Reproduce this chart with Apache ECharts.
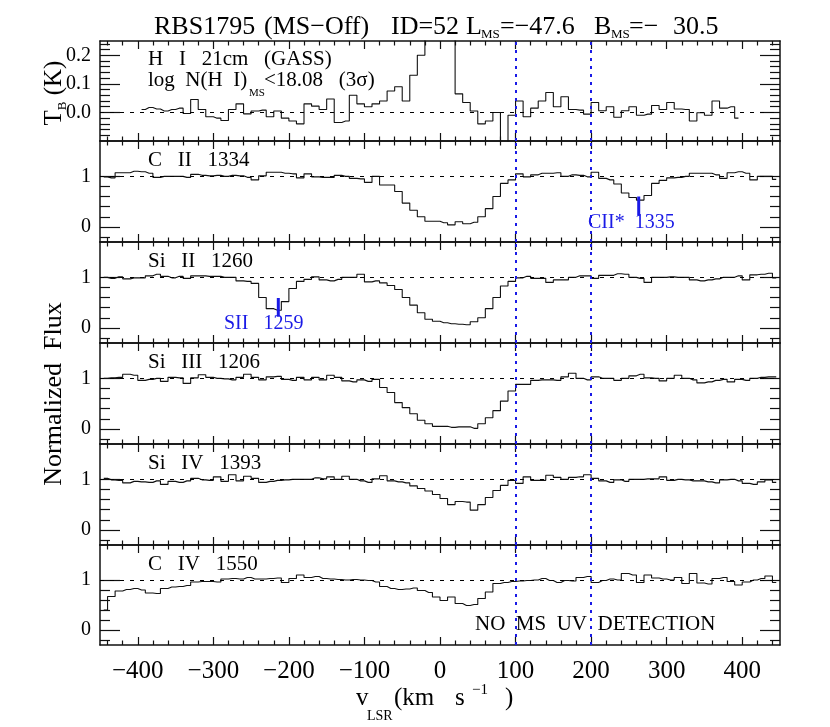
<!DOCTYPE html>
<html>
<head>
<meta charset="utf-8">
<title>RBS1795 (MS-Off)</title>
<script src="https://cdn.jsdelivr.net/npm/echarts@6.0.0/dist/echarts.min.js"></script>
<style>
  html, body { margin: 0; padding: 0; background: #fff; }
  #chart { width: 830px; height: 727px; }
</style>
</head>
<body>
<div id="chart"></div>
<script>
// ---- values ----
// bin centres: UV spectra from -445, HI from -395, 10 km/s per bin
var UV_START = -445, HI_START = -395, BIN = 10;

var hi21 = [
  0.010, 0.017, 0.012, 0.005, 0.010, 0.015, -0.004, 0.045, 0.010, -0.015,
  -0.020, -0.028, 0.010, 0.030, -0.005, 0.005, 0.008, -0.015, 0.005, -0.020,
  -0.030, -0.040, 0.030, 0.022, 0.010, 0.047, -0.035, -0.030, 0.060, 0.030,
  0.020, 0.030, 0.040, 0.075, 0.090, 0.040, 0.130, 0.200, 0.320, 0.420,
  0.400, 0.300, 0.065, 0.035, 0.005, -0.040, -0.030, 0.000, -0.130, -0.010,
  0.040, -0.015, 0.015, 0.040, 0.070, 0.020, 0.055, 0.010, 0.008, -0.006,
  0.035, 0.006, 0.020, -0.017, 0.006, 0.020, -0.010, -0.006, 0.024, 0.010,
  0.035, 0.012, 0.010, -0.030, -0.001, -0.010, 0.040, 0.015, 0.020, -0.020
];
var cii1334 = [
  0.99, 0.97, 1.07, 1.07, 1.10, 1.09, 1.06, 0.98, 1.00, 1.00,
  1.00, 0.98, 1.04, 1.02, 1.01, 1.02, 1.00, 1.02, 1.01, 0.98,
  0.93, 1.01, 1.08, 1.08, 1.06, 1.05, 0.97, 1.05, 0.99, 0.98,
  0.98, 1.02, 1.00, 0.96, 0.95, 0.88, 1.00, 0.83, 0.83, 0.70,
  0.47, 0.33, 0.20, 0.11, 0.11, 0.08, 0.04, 0.10, 0.06, 0.09,
  0.20, 0.36, 0.60, 0.86, 0.93, 1.05, 0.99, 1.03, 1.06, 1.06,
  1.07, 1.00, 1.03, 1.02, 0.99, 1.08, 0.96, 0.93, 0.85, 0.67,
  0.58, 0.53, 0.62, 0.86, 0.92, 0.97, 0.98, 1.00, 1.06, 1.06,
  1.06, 1.03, 0.96, 1.07, 1.09, 1.06, 0.93, 1.00, 1.00, 0.94
];
var siii1260 = [
  1.00, 0.98, 1.01, 0.97, 0.99, 0.99, 1.03, 1.06, 1.02, 0.99,
  1.02, 0.98, 1.03, 1.03, 1.02, 1.02, 1.00, 1.00, 0.93, 0.92,
  0.88, 0.60, 0.38, 0.35, 0.52, 0.78, 0.92, 0.96, 1.01, 0.95,
  0.93, 0.96, 1.00, 1.00, 1.06, 0.91, 0.93, 0.89, 0.84, 0.76,
  0.60, 0.45, 0.30, 0.17, 0.13, 0.10, 0.08, 0.07, 0.06, 0.12,
  0.20, 0.38, 0.60, 0.83, 0.92, 0.99, 1.02, 0.98, 0.98, 0.90,
  0.95, 0.95, 1.00, 1.03, 1.03, 0.98, 1.04, 1.04, 1.07, 1.06,
  1.00, 0.98, 0.90, 1.00, 1.00, 1.01, 1.00, 1.00, 0.95, 0.93,
  0.95, 0.97, 1.00, 1.00, 1.03, 0.95, 1.05, 1.06, 1.08, 0.99
];
var siiii1206 = [
  1.00, 1.01, 1.02, 1.08, 1.06, 0.96, 0.98, 1.00, 0.94, 1.02,
  1.01, 0.90, 1.01, 1.07, 1.02, 1.00, 0.99, 0.97, 1.02, 1.08,
  1.02, 0.97, 1.03, 1.04, 0.98, 0.96, 1.02, 0.97, 1.02, 0.97,
  1.06, 1.02, 0.95, 0.93, 0.97, 0.94, 0.98, 0.82, 0.72, 0.52,
  0.42, 0.30, 0.17, 0.10, 0.05, 0.05, 0.03, 0.04, 0.04, 0.01,
  0.10, 0.22, 0.36, 0.55, 0.75, 0.88, 0.88, 0.96, 0.97, 0.97,
  0.96, 1.03, 1.10, 1.00, 0.97, 1.03, 1.00, 1.00, 0.96, 1.00,
  1.05, 1.08, 1.01, 1.00, 0.95, 1.00, 1.06, 1.00, 0.97, 0.91,
  0.93, 0.96, 0.98, 0.93, 0.98, 0.96, 1.00, 1.02, 1.03, 1.03
];
var siiv1393 = [
  1.02, 0.99, 0.98, 0.93, 0.96, 0.95, 0.94, 0.97, 0.90, 0.96,
  0.94, 0.97, 1.02, 0.99, 0.98, 1.05, 0.96, 1.09, 0.97, 1.06,
  1.02, 0.94, 0.96, 0.98, 0.99, 1.00, 1.00, 1.00, 1.03, 1.01,
  1.05, 1.00, 1.06, 1.00, 0.97, 0.94, 1.01, 1.07, 0.97, 0.95,
  0.93, 0.87, 0.82, 0.77, 0.70, 0.62, 0.50, 0.56, 0.55, 0.39,
  0.50, 0.64, 0.78, 0.88, 0.98, 0.92, 1.05, 0.98, 0.98, 1.08,
  1.04, 1.00, 1.04, 1.05, 1.09, 1.02, 0.97, 0.94, 0.99, 0.96,
  1.00, 1.00, 1.01, 1.01, 1.05, 0.98, 1.00, 0.99, 0.97, 0.97,
  0.95, 0.93, 0.99, 1.00, 0.97, 0.92, 0.90, 0.95, 0.99, 0.94
];
var civ1550 = [
  0.40, 0.67, 0.78, 0.81, 0.83, 0.80, 0.74, 0.73, 0.83, 0.86,
  0.87, 0.89, 0.96, 0.97, 0.97, 0.96, 1.02, 1.03, 1.02, 1.05,
  1.02, 1.02, 1.03, 1.04, 0.95, 1.03, 1.10, 1.05, 1.07, 1.03,
  1.02, 1.01, 1.00, 1.01, 1.00, 0.99, 0.96, 0.87, 0.83, 0.81,
  0.82, 0.84, 0.79, 0.75, 0.66, 0.59, 0.66, 0.53, 0.49, 0.51,
  0.63, 0.76, 0.93, 0.95, 0.97, 0.98, 0.99, 1.00, 1.03, 0.99,
  0.95, 0.99, 0.98, 1.05, 1.07, 0.95, 0.99, 1.02, 1.00, 1.13,
  1.10, 0.95, 1.10, 1.04, 1.02, 1.00, 1.05, 0.93, 1.13, 0.94,
  0.92, 1.03, 1.05, 0.97, 0.90, 0.96, 1.00, 1.03, 1.08, 0.95
];

var panelNames = ['C   II   1334', 'Si   II   1260', 'Si   III   1206', 'Si   IV   1393', 'C   IV   1550'];

// blended-line markers: velocity, panel, flux top / bottom, label
var markVel = [263, -214];
var markPanel = [1, 2];
var markTop = [0.60, 0.59];
var markBot = [0.22, 0.22];
var markText = ['CII*  1335', 'SII   1259'];

// MS velocity window (dotted blue)
var msWindow = [100, 200];

// tick positions
var xMajor = [-400, -300, -200, -100, 0, 100, 200, 300, 400];
var xMinor = [-440, -420, -380, -360, -340, -320, -280, -260, -240, -220, -180, -160, -140, -120,
  -80, -60, -40, -20, 20, 40, 60, 80, 120, 140, 160, 180, 220, 240, 260, 280, 320, 340, 360, 380, 420, 440];
var fluxMajor = [0, 1];
var fluxMinor = [-0.2, 0.2, 0.4, 0.6, 0.8];
var tbMajor = [0, 0.1, 0.2];
var tbMinor = [-0.08, -0.06, -0.04, -0.02, 0.02, 0.04, 0.06, 0.08, 0.12, 0.14, 0.16, 0.18, 0.22, 0.24];

// ---- layout ----
var FONT = '"Liberation Serif", "Times New Roman", serif';
var INK = '#111';
var BLUE = '#1a1ae6';
var TOPS = [41, 141, 242, 343, 444, 545];
var HEIGHTS = [100, 101, 101, 101, 101, 100];
var X_MIN = -450, X_MAX = 450;

function velPairs(vals, start) {
  return vals.map(function (y, i) { return [start + i * BIN, y]; });
}
function fmtVel(v) { return v < 0 ? '\u2212' + Math.abs(v) : String(v); }

function mkX(gi, pos, vals, len, line, labels) {
  return {
    type: 'value', gridIndex: gi, position: pos, min: X_MIN, max: X_MAX,
    axisLine: { show: line, onZero: false, lineStyle: { color: INK, width: 1.5 } },
    axisTick: { show: true, inside: true, length: len, customValues: vals, lineStyle: { color: INK, width: 1.2 } },
    axisLabel: { show: !!labels, customValues: vals, margin: 14, formatter: fmtVel,
      color: '#000', fontFamily: FONT, fontSize: 25 },
    splitLine: { show: false }
  };
}
function mkY(gi, pos, min, max, vals, len, line, fmt) {
  return {
    type: 'value', gridIndex: gi, position: pos, min: min, max: max,
    axisLine: { show: line, onZero: false, lineStyle: { color: INK, width: 1.5 } },
    axisTick: { show: true, inside: true, length: len, customValues: vals, lineStyle: { color: INK, width: 1.2 } },
    axisLabel: { show: !!fmt, customValues: vals, margin: 9, formatter: fmt,
      color: '#000', fontFamily: FONT, fontSize: 20 },
    splitLine: { show: false }
  };
}

var panels = [
  { data: velPairs(hi21, HI_START), min: -0.10, max: 0.25, major: tbMajor, minor: tbMinor, ref: 0,
    fmt: function (v) { return v.toFixed(1); } },
  { data: velPairs(cii1334, UV_START) },
  { data: velPairs(siii1260, UV_START) },
  { data: velPairs(siiii1206, UV_START) },
  { data: velPairs(siiv1393, UV_START) },
  { data: velPairs(civ1550, UV_START) }
];

var grid = [], xAxis = [], yAxis = [], series = [];
panels.forEach(function (p, gi) {
  var min = p.min !== undefined ? p.min : -0.3;
  var max = p.max !== undefined ? p.max : 1.7;
  var major = p.major || fluxMajor, minor = p.minor || fluxMinor;
  var fmt = p.fmt || function (v) { return String(v); };
  var last = gi === panels.length - 1;
  grid.push({ left: 100, right: 50, top: TOPS[gi], height: HEIGHTS[gi], show: false });
  xAxis.push(mkX(gi, 'bottom', xMajor, 8, true, last));
  xAxis.push(mkX(gi, 'bottom', xMinor, 4.5, false, false));
  xAxis.push(mkX(gi, 'top', xMajor, 8, true, false));
  xAxis.push(mkX(gi, 'top', xMinor, 4.5, false, false));
  yAxis.push(mkY(gi, 'left', min, max, major, 20, true, fmt));
  yAxis.push(mkY(gi, 'left', min, max, minor, 10, false, null));
  yAxis.push(mkY(gi, 'right', min, max, major, 20, true, null));
  yAxis.push(mkY(gi, 'right', min, max, minor, 10, false, null));

  var ml = [{ yAxis: p.ref !== undefined ? p.ref : 1, lineStyle: { color: '#000', type: [4, 6], width: 1 } }];
  msWindow.forEach(function (v) {
    ml.push({ xAxis: v, lineStyle: { color: BLUE, type: [3, 5], width: 2 } });
  });
  series.push({
    type: 'line', xAxisIndex: 4 * gi, yAxisIndex: 4 * gi, data: p.data,
    step: 'middle', showSymbol: false, symbol: 'none', clip: true, silent: true,
    lineStyle: { color: INK, width: 1.1 },
    markLine: { silent: true, symbol: ['none', 'none'], label: { show: false }, data: ml }
  });
});

markVel.forEach(function (v, i) {
  var gi = markPanel[i];
  series.push({
    type: 'line', xAxisIndex: 4 * gi, yAxisIndex: 4 * gi, silent: true,
    data: [[v, markTop[i]], [v, markBot[i]]], showSymbol: false, symbol: 'none',
    lineStyle: { color: BLUE, width: 3 }, z: 5
  });
});

// ---- text ----
function txt(x, y, text, size, extra) {
  var g = { type: 'text', x: x, y: y, silent: true, z: 100,
    style: { text: text, fontFamily: FONT, fontSize: size, fill: '#000', align: 'left', verticalAlign: 'middle' } };
  if (extra) for (var k in extra) g.style[k] = extra[k];
  return g;
}

var graphic = [];
// title, piece by piece
graphic.push(txt(154, 27.5, 'RBS1795', 26));
graphic.push(txt(264, 27.5, '(MS\u2212Off)', 26));
graphic.push(txt(391, 27.5, 'ID=52', 26));
graphic.push(txt(466, 27.5, 'L', 26));
graphic.push(txt(481, 35, 'MS', 13));
graphic.push(txt(500, 27.5, '=\u221247.6', 26));
graphic.push(txt(594, 27.5, 'B', 26));
graphic.push(txt(611, 35, 'MS', 13));
graphic.push(txt(629, 27.5, '=\u2212', 26));
graphic.push(txt(673, 27.5, '30.5', 26));

graphic.push(txt(148, 59, 'H   I   21cm   (GASS)', 21));
graphic.push(txt(148, 80, 'log  N(H  I)', 21));
graphic.push(txt(249, 93.5, 'MS', 11));
graphic.push(txt(264, 80, '<18.08   (3\u03c3)', 21));

var labelY = [160, 261, 362, 463.5, 564];
panelNames.forEach(function (n, i) { graphic.push(txt(148, labelY[i], n, 21)); });

graphic.push(txt(588, 223, markText[0], 20, { fill: BLUE }));
graphic.push(txt(224, 324, markText[1], 20, { fill: BLUE }));
graphic.push(txt(475, 624, 'NO  MS  UV  DETECTION', 21));

var yt = txt(54.5, 394, 'Normalized  Flux', 26, { align: 'center' });
yt.rotation = Math.PI / 2;
graphic.push(yt);
var tb = txt(54.5, 93, '{m|T}{s|B}{m| (K)}', 25, { align: 'center',
  rich: { m: { fontFamily: FONT, fontSize: 25, lineHeight: 30, fill: '#000' },
          s: { fontFamily: FONT, fontSize: 13, lineHeight: 13, verticalAlign: 'bottom', fill: '#000' } } });
tb.rotation = Math.PI / 2;
graphic.push(tb);

// x title: v_LSR (km s^-1)
graphic.push(txt(356, 698, 'v', 25));
graphic.push(txt(367, 716.5, 'LSR', 14));
graphic.push(txt(394, 698, '(km', 25));
graphic.push(txt(455, 698, 's', 25));
graphic.push(txt(472, 690, '\u22121', 15));
graphic.push(txt(505, 698, ')', 25));

var chart = echarts.init(document.getElementById('chart'));
chart.setOption({
  animation: false,
  backgroundColor: '#fff',
  grid: grid,
  xAxis: xAxis,
  yAxis: yAxis,
  series: series,
  graphic: graphic
});
</script>
</body>
</html>
